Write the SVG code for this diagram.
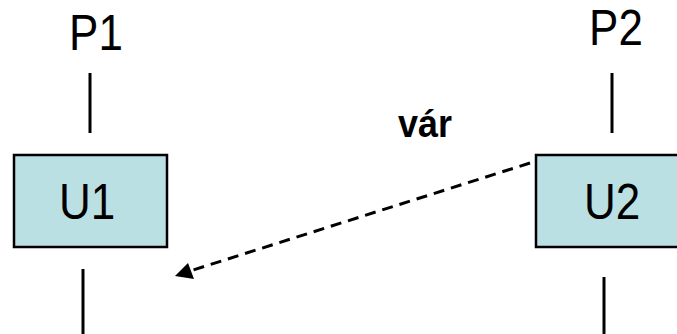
<svg xmlns="http://www.w3.org/2000/svg" width="677" height="334" viewBox="0 0 677 334">
<defs>
<style>
.box{fill:#BBE0E3;stroke:#000;stroke-width:2.5}
.t{font-family:"Liberation Sans",Arial,sans-serif;fill:#000;text-anchor:middle}
.big{font-size:44px}
.ln{stroke:#000;stroke-width:3;fill:none}
.dash{stroke:#000;stroke-width:3;fill:none;stroke-dasharray:11 7}
</style>
</defs>
<rect width="677" height="334" fill="#fff"/>
<g id="P1"><text class="t big" transform="translate(96,50) scale(1,1.12)">P1</text></g>
<g id="P2"><text class="t big" transform="translate(616,45) scale(1,1.12)">P2</text></g>
<g id="U1">
<rect class="box" x="14" y="155" width="153" height="92"/>
<text class="t big" transform="translate(87,219) scale(1,1.14)">U1</text>
</g>
<g id="U2">
<rect class="box" x="536" y="155" width="160" height="92"/>
<text class="t big" transform="translate(612,219) scale(1,1.14)">U2</text>
</g>
<g id="label"><text class="t" font-size="36" font-weight="bold" transform="translate(425,137) scale(1,1.08)">vár</text></g>
<g id="connectors">
<line class="ln" x1="90" y1="73" x2="90" y2="133"/>
<line class="ln" x1="612" y1="73" x2="612" y2="133"/>
<line class="ln" x1="83" y1="269" x2="83" y2="334"/>
<line class="ln" x1="604" y1="277" x2="604" y2="334"/>
<line class="dash" x1="530" y1="163" x2="190" y2="271"/>
<path d="M175,276 L188,263 L194,279 z" fill="#000"/>
</g>
</svg>
